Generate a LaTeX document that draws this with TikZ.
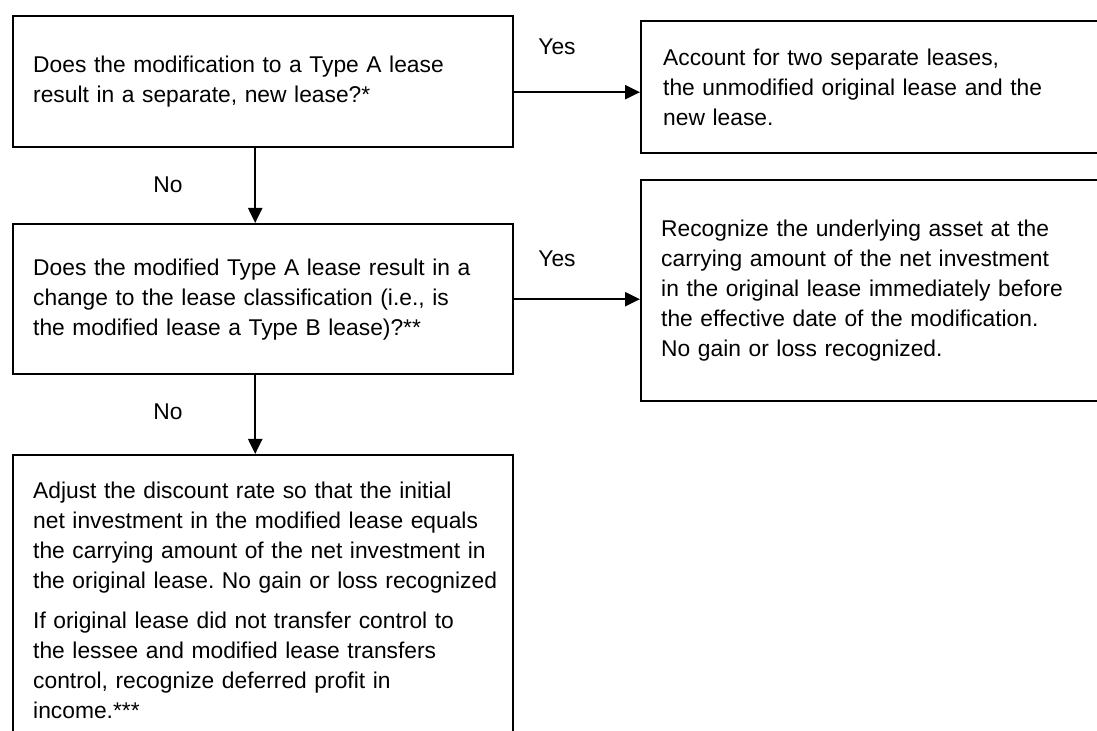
\documentclass[tikz,border=0pt]{standalone}
\usepackage{fontspec}
\setmainfont{Liberation Sans}
\usepackage{tikz}
\usetikzlibrary{arrows.meta}

\newcommand{\leasefont}{\fontsize{11.4pt}{15pt}\selectfont\frenchspacing\hyphenpenalty=10000\relax}

\begin{document}
\begin{tikzpicture}[x=0.5pt,y=-0.5pt]
    \tikzset { box/.style = { shape=rectangle,draw,line width=1.2pt,anchor=north west,
                              align=left,inner xsep=10pt,inner ysep=0pt,font=\leasefont } }
    \tikzset { answer/.style = { anchor=base,inner sep=0pt,font=\leasefont } }
    \tikzset { edge/.style = { ->,> = {Triangle[length=7.5pt,width=7pt]},line width=1.1pt } }

    \path[use as bounding box,fill=white] (0,0) rectangle (1097,731);

    \node[box,text width=230pt,minimum height=65.5pt] (qNew) at (12,15) {
      Does the modification to a Type A lease\\
      result in a separate, new lease?*
    };
    \node[box,text width=213pt,inner xsep=11pt,minimum height=66pt] (aTwo) at (640,20) {
      Account for two separate leases,\\
      the unmodified original lease and the\\
      new lease.
    };
    \node[box,text width=230pt,minimum height=75pt] (qType) at (12,223) {
      Does the modified Type A lease result in a\\
      change to the lease classification (i.e., is\\
      the modified lease a Type B lease)?**
    };
    \node[box,text width=215pt,minimum height=110.5pt] (aAsset) at (640,179) {
      Recognize the underlying asset at the\\
      carrying amount of the net investment\\
      in the original lease immediately before\\
      the effective date of the modification.\\
      No gain or loss recognized.
    };
    \node[box,text width=230pt,minimum height=145.5pt] (aRate) at (12,454) {
      Adjust the discount rate so that the initial\\
      net investment in the modified lease equals\\
      the carrying amount of the net investment in\\
      \mbox{the original lease. No gain or loss recognized}\\[5pt]
      If original lease did not transfer control to\\
      the lessee and modified lease transfers\\
      control, recognize deferred profit in\\
      income.***
    };

    \node[answer] (yesA) at (557,55) {Yes};
    \node[answer] (noA) at (168,193) {No};
    \node[answer] (yesB) at (557,267) {Yes};
    \node[answer] (noB) at (168,420) {No};

    \draw[edge] ([yshift=-5.25pt]qNew.east) coordinate (yA) -- (yA -| aTwo.west);
    \draw[edge] (qType.east) -- (qType.east -| aAsset.west);
    \draw[edge] ([xshift=-4pt]qNew.south) -- ([xshift=-4pt]qType.north);
    \draw[edge] ([xshift=-4pt]qType.south) -- ([xshift=-4pt]aRate.north);

  \end{tikzpicture}
\end{document}
